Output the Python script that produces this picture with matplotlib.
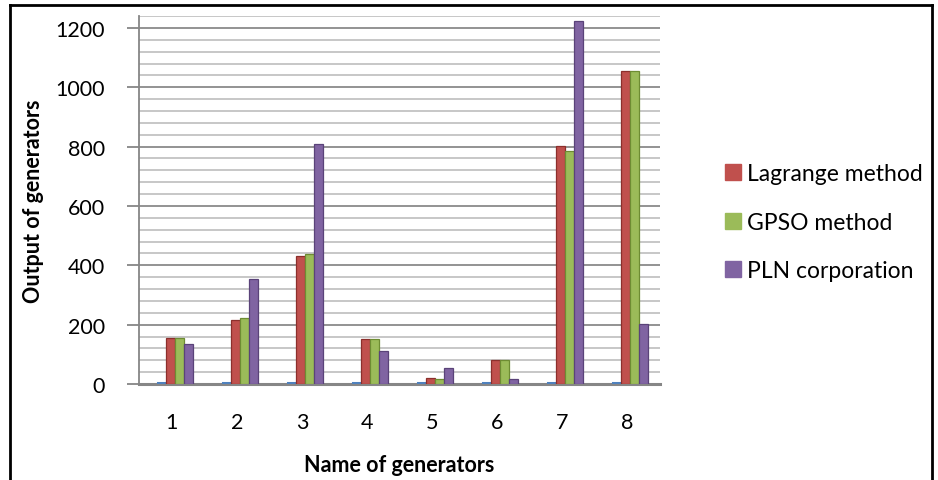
import matplotlib.pyplot as plt
from matplotlib.lines import Line2D
import numpy as np

plt.rcParams['font.family'] = ['Lato', 'DejaVu Sans']

generators = ['1', '2', '3', '4', '5', '6', '7', '8']
unnamed = [4, 4, 4, 4, 4, 4, 4, 4]
lagrange = [155, 215, 430, 152, 19, 80, 802, 1055]
gpso = [155, 222, 438, 151, 17, 81, 785, 1055]
pln = [135, 355, 808, 112, 53, 18, 1222, 202]

series = [
    (unnamed, '#4F81BD', '#4F81BD', None),
    (lagrange, '#C0504D', '#8C2F2C', 'Lagrange method'),
    (gpso, '#9BBB59', '#6E8C33', 'GPSO method'),
    (pln, '#8064A2', '#5A4379', 'PLN corporation'),
]

fig = plt.figure(figsize=(9.38, 4.81), dpi=100)
ax = fig.add_axes([0.1487, 0.1996, 0.5544, 0.765])

x = np.arange(1, len(generators) + 1)
w = 0.135

# horizontal grid: light every 40, darker every 200
for v in range(40, 1241, 40):
    if v % 200 == 0:
        ax.axhline(v, color='#8a8a8a', lw=1.3, zorder=0)
    else:
        ax.axhline(v, color='#b8b8b8', lw=1.1, zorder=0)

handles = []
for k, (vals, col, edge, label) in enumerate(series):
    lw = 2.2 if label is None else 0.9
    ax.bar(x + (k - 1.5) * w + 0.05, vals, w, color=col, edgecolor=edge,
           linewidth=lw, zorder=3)
    if label:
        handles.append(Line2D([], [], marker='s', ls='', markersize=11,
                              markerfacecolor=col, markeredgecolor=col,
                              label=label))

ax.set_xlim(0.5, 8.5)
ax.set_ylim(0, 1240)
ax.set_yticks(range(0, 1201, 200))
ax.set_xticks(x)
ax.set_xticklabels(generators)

for s in ['top', 'right']:
    ax.spines[s].set_visible(False)
ax.spines['left'].set_color('#868686')
ax.spines['left'].set_linewidth(1.3)
ax.spines['bottom'].set_color('#868686')
ax.spines['bottom'].set_linewidth(2.2)

ax.tick_params(axis='y', length=9, width=1.3, color='#868686', pad=16,
               labelsize=15.5)
ax.tick_params(axis='x', length=0, pad=20, labelsize=15.5)

ax.set_ylabel('Output of generators', fontsize=15.5, fontweight='bold',
              labelpad=8)
ax.set_xlabel('Name of generators', fontsize=15.5, fontweight='bold',
              labelpad=16)

fig.legend(handles=handles, loc='upper left',
           bbox_to_anchor=(0.762, 0.678), frameon=False, fontsize=16.5,
           handletextpad=0.2, labelspacing=1.2, handlelength=0.8,
           borderaxespad=0)

# outer frame
frame_kw = dict(color='black', lw=2, transform=fig.transFigure)
fig.add_artist(Line2D([0.0107, 0.9936], [0.9875, 0.9875], **frame_kw))
fig.add_artist(Line2D([0.0107, 0.0107], [0.9875, 0.0], **frame_kw))
fig.add_artist(Line2D([0.9936, 0.9936], [0.9875, 0.0], **frame_kw))

fig.savefig('out.png', dpi=100)
